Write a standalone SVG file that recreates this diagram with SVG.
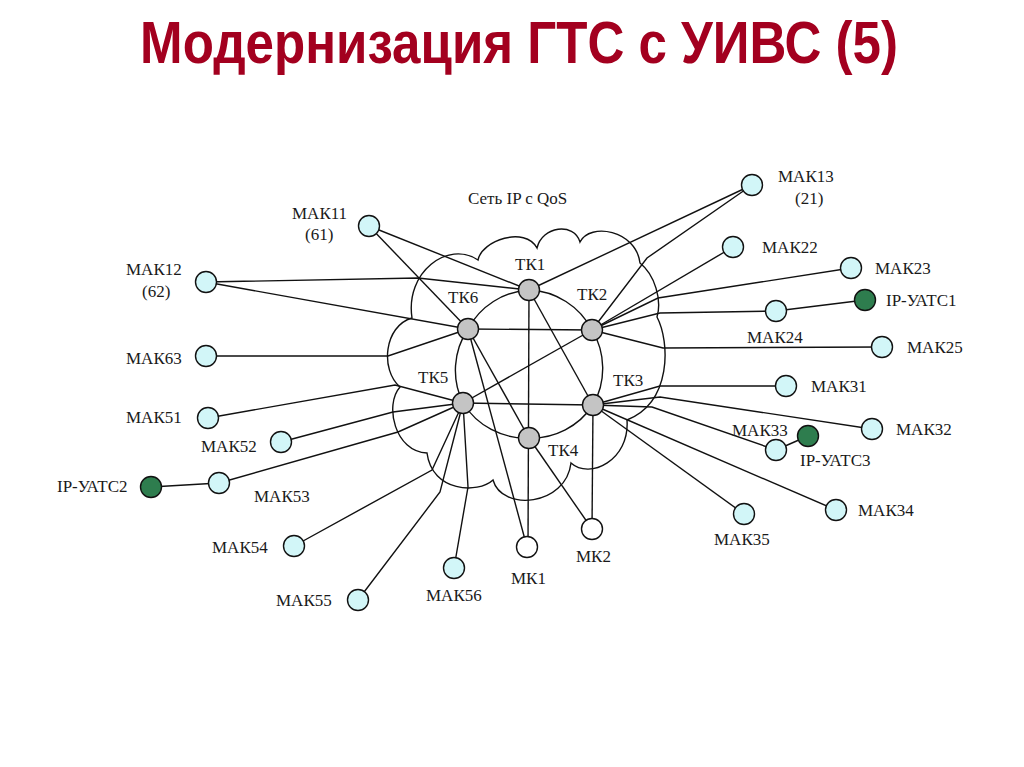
<svg xmlns="http://www.w3.org/2000/svg" width="1024" height="767" viewBox="0 0 1024 767">
<style>
.t{font-family:"Liberation Serif","Times New Roman",serif;font-size:17px;fill:#1a1a1a}
.ln{fill:none;stroke:#111;stroke-width:1.4}
.mak{fill:#d2f6f8;stroke:#111;stroke-width:1.4}
.tk{fill:#c4c4c4;stroke:#111;stroke-width:1.4}
.ip{fill:#2e7d4e;stroke:#111;stroke-width:1.4}
.mk{fill:#fff;stroke:#111;stroke-width:1.4}
</style>
<rect width="1024" height="767" fill="#fff"/>
<g transform="translate(519,63) scale(0.842,1)">
<text x="0" y="0" text-anchor="middle" font-family="Liberation Sans,Arial,sans-serif" font-weight="bold" font-size="60" fill="#a3001f" textLength="900" lengthAdjust="spacingAndGlyphs">Модернизация ГТС с УИВС (5)</text>
</g>

<g id="cloud">
<path class="ln" d="M412,318 C405,272 448,240 478,260 C482,240 525,226 537,248 C542,226 574,222 580,242 C590,222 636,230 640,263 C655,275 662,300 657,317 C670,342 672,402 627,420 C630,460 590,480 571,463 C566,506 502,512 493,480 C478,494 432,492 427,453 C395,452 384,405 400,387 C380,370 384,326 412,318 Z"/>
<text class="t" x="468" y="204">Сеть IP с QoS</text>
</g>

<g id="connectors">
<path class="ln" d="M529,290 A74,74 0 0 1 592,330 A74,74 0 0 1 593,405 A74,74 0 0 1 529,438 A74,74 0 0 1 463,403 A74,74 0 0 1 468,329 A74,74 0 0 1 529,290"/>
<line class="ln" x1="369" y1="226" x2="529" y2="290"/>
<line class="ln" x1="369" y1="226" x2="468" y2="329"/>
<polyline class="ln" points="206,282 418,278 529,290"/>
<line class="ln" x1="206" y1="282" x2="468" y2="329"/>
<polyline class="ln" points="206,356 388,356 468,329"/>
<polyline class="ln" points="208,418 395,385 463,403"/>
<polyline class="ln" points="281,442 393,412 463,403"/>
<polyline class="ln" points="219,483 398,432 463,403"/>
<line class="ln" x1="151" y1="487" x2="219" y2="483"/>
<polyline class="ln" points="294,546 432,470 463,403"/>
<polyline class="ln" points="358,600 440,492 463,403"/>
<polyline class="ln" points="454,568 468,487 463,403"/>
<line class="ln" x1="529" y1="290" x2="528" y2="547"/>
<line class="ln" x1="468" y1="329" x2="527" y2="547"/>
<line class="ln" x1="468" y1="329" x2="529" y2="438"/>
<line class="ln" x1="593" y1="405" x2="592" y2="529"/>
<line class="ln" x1="529" y1="438" x2="592" y2="529"/>
<line class="ln" x1="529" y1="290" x2="593" y2="405"/>
<line class="ln" x1="592" y1="330" x2="463" y2="403"/>
<line class="ln" x1="468" y1="329" x2="592" y2="330"/>
<line class="ln" x1="463" y1="403" x2="593" y2="405"/>
<line class="ln" x1="752" y1="185" x2="529" y2="290"/>
<polyline class="ln" points="592,330 647,258 752,185"/>
<line class="ln" x1="592" y1="330" x2="733" y2="247"/>
<polyline class="ln" points="592,330 658,298 851,268"/>
<polyline class="ln" points="592,330 660,313 776,311"/>
<line class="ln" x1="776" y1="311" x2="865" y2="300"/>
<polyline class="ln" points="592,330 663,348 882,347"/>
<polyline class="ln" points="593,405 660,386 786,386"/>
<polyline class="ln" points="593,405 660,397 872,429"/>
<polyline class="ln" points="593,405 652,407 776,450"/>
<line class="ln" x1="776" y1="450" x2="808" y2="436"/>
<line class="ln" x1="593" y1="405" x2="836" y2="510"/>
<line class="ln" x1="593" y1="405" x2="744" y2="514"/>
</g>

<g id="TK1"><circle class="tk" cx="529" cy="290" r="10.5"/><text class="t" x="515" y="270">ТК1</text></g>
<g id="TK2"><circle class="tk" cx="592" cy="330" r="10.5"/><text class="t" x="577" y="300">ТК2</text></g>
<g id="TK3"><circle class="tk" cx="593" cy="405" r="10.5"/><text class="t" x="613" y="386">ТК3</text></g>
<g id="TK4"><circle class="tk" cx="529" cy="438" r="10.5"/><text class="t" x="548" y="456">ТК4</text></g>
<g id="TK5"><circle class="tk" cx="463" cy="403" r="10.5"/><text class="t" x="418" y="383">ТК5</text></g>
<g id="TK6"><circle class="tk" cx="468" cy="329" r="10.5"/><text class="t" x="448" y="303">ТК6</text></g>

<g id="MAK11"><circle class="mak" cx="369" cy="226" r="10.5"/><text class="t" x="292" y="219">МАК11</text><text class="t" x="305" y="240">(61)</text></g>
<g id="MAK12"><circle class="mak" cx="206" cy="282" r="10.5"/><text class="t" x="126" y="275">МАК12</text><text class="t" x="142" y="297">(62)</text></g>
<g id="MAK63"><circle class="mak" cx="206" cy="356" r="10.5"/><text class="t" x="126" y="364">МАК63</text></g>
<g id="MAK51"><circle class="mak" cx="208" cy="418" r="10.5"/><text class="t" x="126" y="423">МАК51</text></g>
<g id="MAK52"><circle class="mak" cx="281" cy="442" r="10.5"/><text class="t" x="201" y="452">МАК52</text></g>
<g id="IPUATS2"><circle class="ip" cx="151" cy="487" r="10.5"/><text class="t" x="57" y="492">IP-УАТС2</text></g>
<g id="MAK53"><circle class="mak" cx="219" cy="483" r="10.5"/><text class="t" x="254" y="502">МАК53</text></g>
<g id="MAK54"><circle class="mak" cx="294" cy="546" r="10.5"/><text class="t" x="212" y="553">МАК54</text></g>
<g id="MAK55"><circle class="mak" cx="358" cy="600" r="10.5"/><text class="t" x="276" y="606">МАК55</text></g>
<g id="MAK56"><circle class="mak" cx="454" cy="568" r="10.5"/><text class="t" x="426" y="601">МАК56</text></g>
<g id="MK1"><circle class="mk" cx="527" cy="547" r="10.5"/><text class="t" x="511" y="584">МК1</text></g>
<g id="MK2"><circle class="mk" cx="592" cy="529" r="10.5"/><text class="t" x="576" y="562">МК2</text></g>
<g id="MAK35"><circle class="mak" cx="744" cy="514" r="10.5"/><text class="t" x="714" y="545">МАК35</text></g>
<g id="MAK34"><circle class="mak" cx="836" cy="510" r="10.5"/><text class="t" x="858" y="516">МАК34</text></g>
<g id="MAK33"><circle class="mak" cx="776" cy="450" r="10.5"/><text class="t" x="732" y="436">МАК33</text></g>
<g id="IPUATS3"><circle class="ip" cx="808" cy="436" r="10.5"/><text class="t" x="800" y="466">IP-УАТС3</text></g>
<g id="MAK32"><circle class="mak" cx="872" cy="429" r="10.5"/><text class="t" x="896" y="435">МАК32</text></g>
<g id="MAK31"><circle class="mak" cx="786" cy="386" r="10.5"/><text class="t" x="811" y="392">МАК31</text></g>
<g id="MAK25"><circle class="mak" cx="882" cy="347" r="10.5"/><text class="t" x="907" y="353">МАК25</text></g>
<g id="MAK24"><circle class="mak" cx="776" cy="311" r="10.5"/><text class="t" x="747" y="343">МАК24</text></g>
<g id="IPUATS1"><circle class="ip" cx="865" cy="300" r="10.5"/><text class="t" x="886" y="306">IP-УАТС1</text></g>
<g id="MAK23"><circle class="mak" cx="851" cy="268" r="10.5"/><text class="t" x="875" y="274">МАК23</text></g>
<g id="MAK22"><circle class="mak" cx="733" cy="247" r="10.5"/><text class="t" x="762" y="253">МАК22</text></g>
<g id="MAK13"><circle class="mak" cx="752" cy="185" r="10.5"/><text class="t" x="778" y="182">МАК13</text><text class="t" x="795" y="204">(21)</text></g>
</svg>
